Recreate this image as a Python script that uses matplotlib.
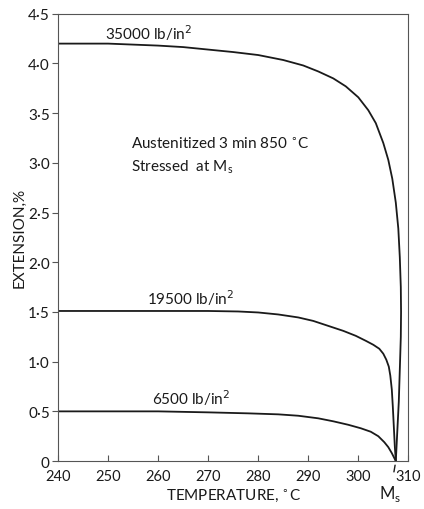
import matplotlib.pyplot as plt

# values (temperature degC, extension %)
temp_35000 = [240, 250, 260, 265, 270, 275, 280, 285, 289, 292, 295, 297.5, 300,
              302, 303.5, 305, 306, 306.8, 307.5, 308.0, 308.3, 308.5, 308.55,
              308.5, 308.35, 308.1, 307.8, 307.5]
ext_35000 = [4.20, 4.20, 4.18, 4.165, 4.14, 4.115, 4.085, 4.035, 3.98, 3.92, 3.85,
             3.77, 3.66, 3.53, 3.40, 3.20, 3.03, 2.84, 2.60, 2.34, 2.05, 1.75, 1.50,
             1.25, 1.00, 0.60, 0.30, 0.0]

temp_19500 = [240, 260, 270, 276, 280, 284, 288, 291, 294, 297, 299.5, 301.5, 303,
              304.2, 305, 305.6, 306.1, 306.4, 306.7, 306.9, 307.1, 307.3, 307.5]
ext_19500 = [1.51, 1.51, 1.51, 1.505, 1.495, 1.475, 1.445, 1.41, 1.36, 1.31, 1.26,
             1.21, 1.17, 1.13, 1.08, 1.02, 0.95, 0.86, 0.72, 0.55, 0.35, 0.15, 0.0]

temp_6500 = [240, 260, 270, 278, 284, 288, 292, 295, 298, 300.5, 302.5, 304, 305.2,
             306, 306.7, 307.1, 307.5]
ext_6500 = [0.50, 0.50, 0.49, 0.48, 0.47, 0.456, 0.43, 0.40, 0.365, 0.33, 0.295,
            0.25, 0.19, 0.14, 0.08, 0.04, 0.0]

labels = ["35000 lb/in$^2$", "19500 lb/in$^2$", "6500 lb/in$^2$"]
label_pos = [(258, 4.22), (266.5, 1.55), (266.5, 0.54)]

ms_temp = 307.5
x_ticks = [240, 250, 260, 270, 280, 290, 300, 310]
y_ticks = [0, 0.5, 1.0, 1.5, 2.0, 2.5, 3.0, 3.5, 4.0, 4.5]
y_ticklabels = ["0", "0·5", "1·0", "1·5", "2·0", "2·5", "3·0", "3·5", "4·0", "4·5"]

plt.rcParams["font.family"] = ["Lato", "DejaVu Sans"]

fig = plt.figure(figsize=(4.24, 5.10), dpi=100)
ax = fig.add_axes([0.137, 0.094, 0.826, 0.877])

ink = "#1a1a1a"
ax.plot(temp_35000, ext_35000, color=ink, lw=1.3)
ax.plot(temp_19500, ext_19500, color=ink, lw=1.3)
ax.plot(temp_6500, ext_6500, color=ink, lw=1.3)

for txt, (x, y) in zip(labels, label_pos):
    ax.text(x, y, txt, ha="center", va="bottom", fontsize=11, color=ink)

ax.text(254.5, 3.2, "Austenitized 3 min 850 $^{\\circ}$C", fontsize=11,
        color=ink, va="center")
ax.text(254.5, 2.97, "Stressed  at M$_\\mathregular{s}$", fontsize=11,
        color=ink, va="center")

ax.annotate("M$_\\mathregular{s}$", xy=(ms_temp, 0), xytext=(306.4, -0.32),
            ha="center", va="center", fontsize=12, color=ink,
            annotation_clip=False,
            arrowprops=dict(arrowstyle="-", color=ink, lw=1.0,
                            shrinkA=6, shrinkB=3))

ax.set_xlim(240, 310)
ax.set_ylim(0, 4.5)
ax.set_xticks(x_ticks)
ax.set_yticks(y_ticks)
ax.set_yticklabels(y_ticklabels)
ax.tick_params(axis="x", direction="in", length=4, labelsize=10.5, pad=6,
               colors="#555", labelcolor=ink)
ax.tick_params(axis="y", direction="out", length=4, labelsize=11, pad=2,
               colors="#555", labelcolor=ink)
for s in ax.spines.values():
    s.set_linewidth(0.8)
    s.set_color("#555")

ax.set_xlabel("TEMPERATURE, $^{\\circ}$C", fontsize=11, color=ink, labelpad=2)
ax.set_ylabel("EXTENSION,%", fontsize=11, color=ink, labelpad=1)

fig.savefig("out.png", dpi=100)
